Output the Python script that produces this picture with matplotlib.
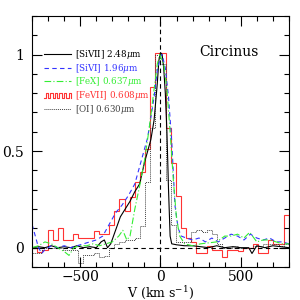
import numpy as np
import matplotlib
matplotlib.use("Agg")
import matplotlib.pyplot as plt
from matplotlib.legend_handler import HandlerBase
from matplotlib.lines import Line2D

plt.rcParams["font.family"] = "DejaVu Serif"
plt.rcParams["mathtext.fontset"] = "dejavuserif"

# [SiVII] 2.48um - black solid
v_sivii = [-800, -760, -720, -680, -640, -600, -560, -520, -480, -440, -400, -370, -350, -330,
           -310, -280, -250, -220, -190, -160, -130, -100, -80, -60, -40, -20, -10, 0, 10, 20,
           30, 40, 50, 60, 70, 100, 150, 200, 250, 300, 350, 400, 450, 500, 550, 570, 600,
           650, 700, 750, 800]
f_sivii = [0.0, 0.005, 0.0, 0.01, 0.0, 0.005, 0.0, 0.01, 0.0, 0.005, 0.0, 0.03, 0.04, 0.0,
           0.02, 0.09, 0.16, 0.20, 0.24, 0.29, 0.33, 0.44, 0.50, 0.56, 0.66, 0.85, 0.97, 1.01,
           1.0, 0.93, 0.8, 0.6, 0.3, 0.06, 0.02, 0.015, 0.01, 0.01, 0.005, 0.0, 0.01, 0.0,
           0.005, 0.0, 0.0, -0.03, 0.01, 0.0, 0.01, 0.005, 0.0]

# [SiVI] 1.96um - blue dashed
v_sivi = [-800, -780, -760, -740, -720, -680, -640, -600, -560, -520, -480, -440, -400, -360,
          -320, -280, -240, -200, -160, -120, -80, -40, -20, 0, 10, 30, 50, 70, 90, 110, 130,
          160, 200, 240, 280, 320, 360, 400, 440, 480, 520, 560, 600, 640, 680, 720, 760, 800]
f_sivi = [0.12, 0.06, 0.0, -0.03, -0.01, 0.01, 0.0, 0.01, 0.0, 0.01, 0.02, 0.03, 0.04, 0.06,
          0.12, 0.18, 0.22, 0.27, 0.33, 0.45, 0.57, 0.78, 0.92, 0.99, 1.0, 0.93, 0.78, 0.55,
          0.22, 0.10, 0.06, 0.05, 0.04, 0.05, 0.03, 0.05, 0.03, 0.05, 0.07, 0.06, 0.04, 0.07,
          0.05, 0.04, 0.05, 0.03, 0.03, 0.02]

# [FeX] 0.637um - green dash-dot
v_fex = [-800, -760, -720, -680, -640, -600, -570, -540, -500, -460, -420, -380, -340, -300,
         -260, -235, -210, -190, -160, -130, -100, -70, -40, -20, -5, 20, 40, 60, 80, 100, 120,
         150, 200, 250, 300, 350, 400, 440, 480, 520, 556, 600, 640, 680, 720, 760, 800]
f_fex = [0.0, 0.01, 0.03, 0.02, 0.0, -0.02, -0.04, 0.0, 0.01, 0.01, 0.02, 0.01, 0.02, 0.03,
         0.06, 0.09, 0.04, 0.06, 0.20, 0.32, 0.45, 0.62, 0.82, 0.95, 1.0, 0.95, 0.82, 0.60,
         0.35, 0.15, 0.06, 0.02, 0.01, 0.02, 0.025, 0.03, 0.06, 0.06, 0.07, 0.05, 0.08, 0.03,
         0.04, 0.04, 0.03, 0.02, 0.02]

# [FeVII] 0.608um - red histogram, 32 km/s bins from -800 to 800
bin_width = 32
f_fevii = [0.0, -0.02, -0.01, 0.09, 0.04, 0.10, 0.04, 0.04, 0.07, 0.05, 0.05, 0.05, 0.085,
           0.07, 0.07, 0.12, 0.19, 0.25, 0.19, 0.26, 0.34, 0.39, 0.51, 0.83, 1.01, 1.01, 0.62,
           0.44, 0.27, 0.10, 0.05, 0.03, -0.03, -0.03, 0.01, -0.01, -0.01, -0.05, -0.01,
           -0.01, -0.015, 0.0, 0.0, 0.02, -0.03, -0.03, 0.04, 0.02, 0.02, 0.17]

# [OI] 0.630um - grey dotted histogram, same bins
f_oi = [-0.03, -0.03, 0.0, 0.0, 0.0, 0.0, -0.01, -0.01, -0.01, -0.08, -0.04, -0.04, -0.03,
        -0.05, -0.045, 0.0, 0.02, 0.03, 0.04, 0.04, 0.05, 0.11, 0.34, 0.62, 1.0, 0.95, 0.35,
        0.12, 0.03, 0.03, 0.03, 0.08, 0.09, 0.08, 0.09, 0.07, 0.02, 0.0, 0.0, 0.01, 0.0, 0.0,
        0.0, 0.01, 0.01, 0.02, 0.02, 0.02, 0.01, 0.02]

labels = ["[SiVII] 2.48$\\mu$m", "[SiVI] 1.96$\\mu$m", "[FeX] 0.637$\\mu$m",
          "[FeVII] 0.608$\\mu$m", "[OI] 0.630$\\mu$m"]
colors = ["black", "#3333ff", "#33ee33", "#ff3333", "#444444"]


class SquareWave(HandlerBase):
    # histogram symbol for the legend
    def create_artists(self, legend, orig_handle, xdescent, ydescent, width, height,
                       fontsize, trans):
        n = 6
        xs = np.linspace(-xdescent, -xdescent + width, 2 * n + 1)
        lo = -ydescent + 0.1 * height
        hi = -ydescent + 0.8 * height
        ys = [lo if i % 2 == 0 else hi for i in range(len(xs))]
        line = Line2D(xs, ys, drawstyle="steps-post", color=orig_handle.get_color(),
                      lw=orig_handle.get_linewidth())
        line.set_transform(trans)
        return [line]


def main():
    fig = plt.figure(figsize=(3, 3), dpi=100)
    ax = fig.add_axes([0.107, 0.11, 0.856, 0.837])

    edges = np.arange(-800, 800 + bin_width, bin_width)

    ax.axhline(0, color="black", lw=0.8, ls=(0, (4, 3)))
    ax.axvline(0, color="black", lw=0.8, ls=(0, (4, 3)))

    l1, = ax.plot(v_sivii, f_sivii, color=colors[0], lw=0.8)
    l2, = ax.plot(v_sivi, f_sivi, color=colors[1], lw=0.8, ls=(0, (4, 3)))
    l3, = ax.plot(v_fex, f_fex, color=colors[2], lw=0.8, ls=(0, (6, 2, 1, 2)))
    ax.stairs(f_fevii, edges, color=colors[3], lw=0.8)
    ax.stairs(f_oi, edges, color=colors[4], lw=0.7, ls=(0, (1, 1)))

    l4 = Line2D([], [], color=colors[3], lw=0.8)
    l5 = Line2D([], [], color=colors[4], lw=0.7, ls=(0, (1, 1)))

    leg = ax.legend([l1, l2, l3, l4, l5], labels, loc="upper left",
                    bbox_to_anchor=(0.045, 0.872), frameon=False, fontsize=6.3,
                    handlelength=3.1, handletextpad=0.45, labelspacing=0.08, borderpad=0,
                    borderaxespad=0, handler_map={l4: SquareWave()})
    for txt, c in zip(leg.get_texts(), colors):
        txt.set_color(c)

    ax.text(0.767, 0.857, "Circinus", transform=ax.transAxes, fontsize=10,
            ha="center", va="center")

    ax.set_xlim(-800, 800)
    ax.set_ylim(-0.1, 1.2)
    ax.set_xticks([-500, 0, 500])
    ax.set_xticks(np.arange(-800, 801, 100), minor=True)
    ax.set_yticks([0, 0.5, 1])
    ax.set_yticklabels(["0", "0.5", "1"])
    ax.set_yticks(np.arange(-0.1, 1.21, 0.1), minor=True)
    ax.tick_params(which="both", direction="in", top=True, right=True, labelsize=10,
                   width=0.8)
    ax.tick_params(axis="x", pad=2)
    ax.tick_params(axis="y", pad=6)
    ax.tick_params(which="major", length=7)
    ax.tick_params(which="minor", length=3.5)
    ax.set_xlabel("V (km s$^{-1}$)", fontsize=9, labelpad=0)
    for s in ax.spines.values():
        s.set_linewidth(0.8)

    fig.savefig("out.png", dpi=100)


if __name__ == "__main__":
    main()
